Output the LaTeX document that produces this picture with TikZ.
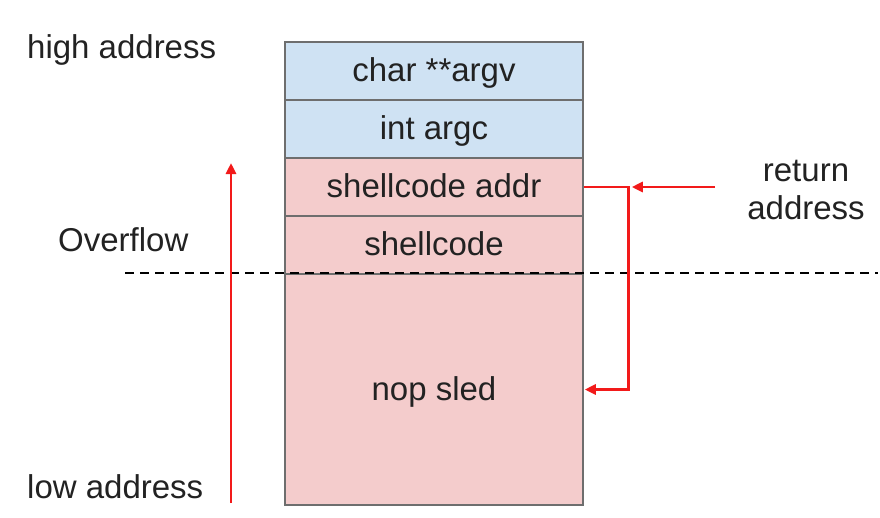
\documentclass[tikz,border=0pt]{standalone}
\usepackage{fontspec}
\setmainfont{Liberation Sans}
\usetikzlibrary{arrows.meta}
\definecolor{cellblue}{HTML}{CFE2F3}
\definecolor{cellred}{HTML}{F4CCCC}
\definecolor{cellline}{HTML}{6E6E6E}
\definecolor{txt}{HTML}{222222}
\definecolor{arrred}{HTML}{F21A1A}
\begin{document}
\begin{tikzpicture}[x=1pt,y=-1pt,
  every node/.style={font=\fontsize{33}{40}\selectfont, text=txt},
  cell/.style={draw=cellline, line width=1.5pt, minimum width=298pt, inner sep=0pt, anchor=center, text depth=2pt},
  bluecell/.style={cell, fill=cellblue, minimum height=58pt},
  redcell/.style={cell, fill=cellred, minimum height=58pt},
  redline/.style={draw=arrred, line width=2.8pt},
  tip/.style={-{Triangle[length=11pt,width=10pt]}},
  lbl/.style={inner sep=0pt}]
\useasboundingbox (0,0) rectangle (880,517);
\node[bluecell] (argv) at (434,71) {char **argv};
\node[bluecell] (argc) at (434,129) {int argc};
\node[redcell] (addr) at (434,187) {shellcode addr};
\node[redcell] (shell) at (434,245) {shellcode};
\node[cell, fill=cellred, minimum height=231pt] (sled) at (434,389.5) {nop sled};
\draw[line width=2.6pt, dash pattern=on 9pt off 6pt] (125,273) coordinate (dl) -- (878,273) coordinate (dr);
\node[lbl, anchor=west] (high) at (27,50) {high address};
\node[lbl, anchor=west] (ovf) at (58,240) {Overflow};
\node[lbl, anchor=west] (low) at (27,487) {low address};
\node[lbl, align=center] (ret) at (806,190) {return\\[-2pt]address};
\coordinate (ob) at (231,503);
\coordinate (ot) at (231,163);
\draw[redline, tip] (ob) -- (ot);
\draw[redline, tip] (addr.east) -- ++(45,0) coordinate (br) |- ([xshift=1pt]sled.east);
\coordinate (ra) at (715,187);
\draw[redline, tip] (ra) -- ([xshift=3pt]br);
\end{tikzpicture}
\end{document}
